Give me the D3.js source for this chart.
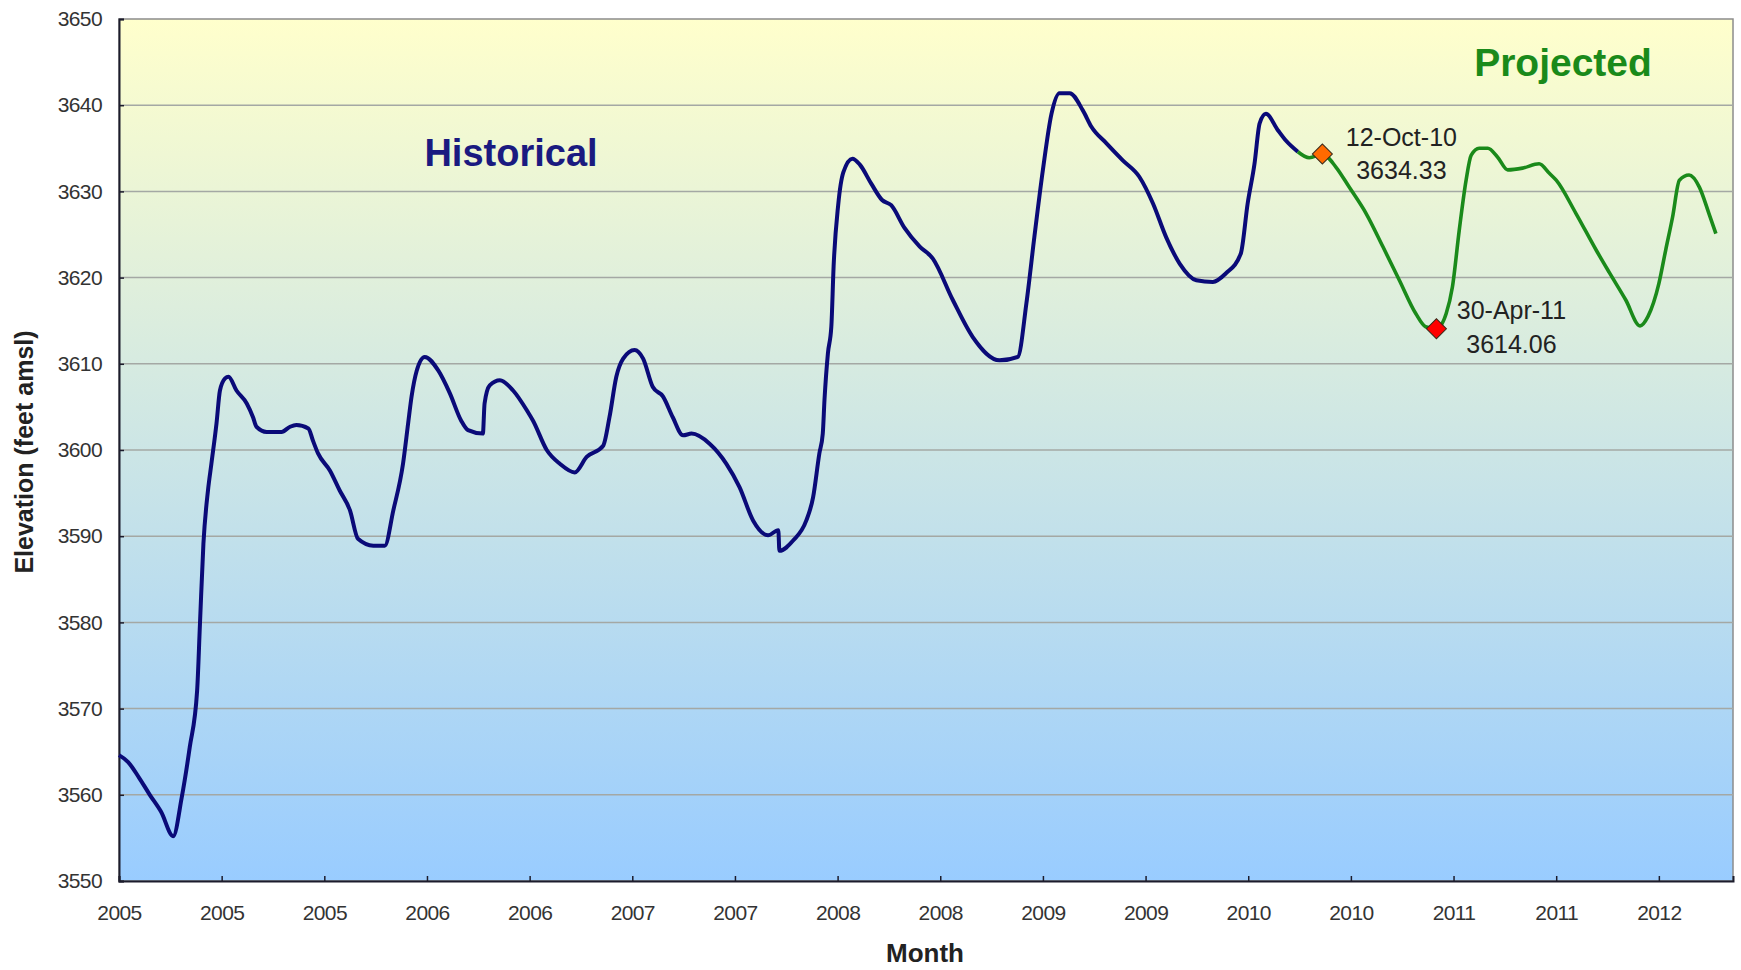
<!DOCTYPE html>
<html>
<head>
<meta charset="utf-8">
<script src="https://cdn.jsdelivr.net/npm/d3@7"></script>
<style>
  body { margin: 0; background: #fff; }
  text { font-family: "Liberation Sans", Arial, sans-serif; }
</style>
</head>
<body>
<div id="container"></div>
<script>
/* CONSTANTS AND GLOBALS */
const width = 1741;
const height = 970;
const margin = { top: 19, right: 8, bottom: 89, left: 119 };

/* DATA */
const histDates = [
  "2005-01-01","2005-01-17","2005-02-05","2005-02-24","2005-03-16","2005-04-06","2005-04-21","2005-05-05",
  "2005-05-18","2005-05-23","2005-05-29","2005-06-06","2005-06-12","2005-06-21","2005-06-27","2005-07-06",
  "2005-07-12","2005-07-26","2005-08-13","2005-08-24","2005-08-30","2005-09-17","2005-10-13","2005-10-28",
  "2005-11-08","2005-11-29","2005-12-07","2005-12-16","2006-01-06","2006-01-23","2006-02-10","2006-02-24",
  "2006-03-23","2006-04-12","2006-04-27","2006-05-14","2006-05-23","2006-05-29","2006-06-07","2006-06-21",
  "2006-07-15","2006-08-04","2006-08-24","2006-09-05","2006-10-01","2006-10-04","2006-10-13","2006-10-31",
  "2006-11-23","2006-12-19","2006-12-28","2007-01-21","2007-02-13","2007-03-11","2007-04-01","2007-04-30",
  "2007-05-11","2007-05-23","2007-06-04","2007-06-24","2007-07-09","2007-07-26","2007-08-13","2007-08-30",
  "2007-09-17","2007-10-02","2007-11-03","2007-12-02","2007-12-25","2008-01-18","2008-02-13","2008-03-02",
  "2008-03-04","2008-03-28","2008-04-20","2008-05-02","2008-05-13","2008-05-19","2008-05-22","2008-05-28",
  "2008-06-03","2008-06-07","2008-06-15","2008-06-24","2008-07-10","2008-07-23","2008-08-12","2008-08-31",
  "2008-09-16","2008-10-09","2008-11-05","2008-11-28","2009-01-02","2009-02-06","2009-03-25","2009-04-26",
  "2009-05-11","2009-05-25","2009-06-09","2009-06-24","2009-07-08","2009-07-26","2009-08-18","2009-09-02",
  "2009-09-28","2009-10-27","2009-11-25","2009-12-19","2010-01-11","2010-02-04","2010-03-05","2010-04-03",
  "2010-04-26","2010-05-22","2010-06-03","2010-06-15","2010-06-24","2010-07-05","2010-07-26","2010-08-09",
  "2010-08-30"
];
const histValues = [
  3564.6,3563.8,3562.0,3560.0,3558.0,3555.2,3559.7,3565.5,
  3572.1,3579.9,3589.1,3595.3,3598.4,3603.1,3606.9,3608.3,
  3608.5,3606.9,3605.4,3603.8,3602.7,3602.1,3602.1,3602.7,
  3602.9,3602.5,3601.1,3599.6,3597.6,3595.3,3593.0,3589.7,
  3588.9,3588.9,3593.0,3598.4,3603.1,3606.2,3609.2,3610.8,
  3609.2,3606.6,3603.4,3602.3,3601.9,3605.4,3607.5,3608.1,
  3606.9,3604.4,3603.4,3600.0,3598.4,3597.4,3599.2,3600.5,
  3603.8,3608.5,3610.6,3611.6,3610.6,3607.3,3606.2,3603.8,
  3601.7,3601.9,3600.7,3598.4,3595.7,3591.8,3590.1,3590.7,
  3588.3,3589.5,3591.8,3594.5,3599.6,3601.9,3605.8,3611.2,
  3614.3,3621.3,3628.4,3632.2,3633.8,3633.1,3630.9,3629.0,
  3628.4,3625.8,3623.6,3622.2,3617.4,3613.1,3610.4,3610.8,
  3617.0,3624.7,3632.5,3639.0,3641.4,3641.4,3639.4,3637.5,
  3635.6,3633.6,3631.7,3628.6,3624.7,3621.6,3619.7,3619.5,
  3620.5,3622.8,3628.6,3633.2,3637.9,3639.0,3637.1,3635.9,
  3634.6
];

const projDates = [
  "2010-08-30","2010-09-19","2010-10-12","2010-11-05","2010-11-28","2010-12-28","2011-01-26","2011-02-24",
  "2011-03-25","2011-04-11","2011-04-30","2011-05-17","2011-05-28","2011-06-09","2011-06-21","2011-06-30",
  "2011-07-14","2011-07-29","2011-08-15","2011-09-02","2011-09-28","2011-10-27","2011-11-14","2011-11-26",
  "2011-12-31","2012-02-04","2012-02-27","2012-03-27","2012-04-21","2012-05-05","2012-05-24","2012-06-05",
  "2012-06-17","2012-06-29","2012-07-16","2012-08-03","2012-08-20","2012-09-01"
];
const projValues = [
  3634.6,3633.9,3634.33,3632.8,3630.5,3627.4,3623.6,3619.7,
  3615.8,3614.3,3614.06,3615.8,3618.9,3625.5,3631.3,3634.2,
  3635.0,3635.0,3634.0,3632.5,3632.7,3633.2,3632.1,3631.3,
  3627.4,3623.2,3620.6,3617.4,3614.4,3615.5,3619.3,3623.2,
  3627.0,3631.3,3631.9,3630.5,3627.4,3625.1
];

const markerDates = ["2010-10-12", "2011-04-30"];
const markerValues = [3634.33, 3614.06];
const markerNames = ["12-Oct-10", "30-Apr-11"];
const markerColors = ["#ff6a00", "#ff0000"];

const xStart = "2005-01-01";
const xEnd = "2012-10-01";
const xTickStepDays = 180;
const xTickLabels = ["2005","2005","2005","2006","2006","2007","2007","2008",
                     "2008","2009","2009","2010","2010","2011","2011","2012"];
const yTicks = [3550,3560,3570,3580,3590,3600,3610,3620,3630,3640,3650];

const parse = d3.timeParse("%Y-%m-%d");
const fmt = d3.format(".2f");

const hist = histDates.map((d, i) => ({ date: parse(d), value: histValues[i] }));
const proj = projDates.map((d, i) => ({ date: parse(d), value: projValues[i] }));
const markers = markerDates.map((d, i) => ({
  date: parse(d), value: markerValues[i], name: markerNames[i], color: markerColors[i]
}));

const innerW = width - margin.left - margin.right;
const innerH = height - margin.top - margin.bottom;

// SCALES
const x = d3.scaleTime()
  .domain([parse(xStart), parse(xEnd)])
  .range([0, innerW]);

const y = d3.scaleLinear()
  .domain([3550, 3650])
  .range([innerH, 0]);

const xTickDates = xTickLabels.map((l, i) => d3.timeDay.offset(parse(xStart), i * xTickStepDays));

// CREATE SVG ELEMENT
const svg = d3.select("#container")
  .append("svg")
  .attr("width", width)
  .attr("height", height);

const defs = svg.append("defs");
const grad = defs.append("linearGradient")
  .attr("id", "bg")
  .attr("x1", 0).attr("y1", 0).attr("x2", 0).attr("y2", 1);
grad.append("stop").attr("offset", "0%").attr("stop-color", "#ffffcc");
grad.append("stop").attr("offset", "100%").attr("stop-color", "#99ccff");

const g = svg.append("g")
  .attr("transform", "translate(" + margin.left + "," + margin.top + ")");

g.append("rect")
  .attr("width", innerW)
  .attr("height", innerH)
  .attr("fill", "url(#bg)")
  .attr("stroke", "#8c8c8c")
  .attr("stroke-width", 1.5);

// GRIDLINES
g.append("g")
  .selectAll("line")
  .data(yTicks.slice(1, -1))
  .join("line")
  .attr("x1", 0)
  .attr("x2", innerW)
  .attr("y1", d => y(d))
  .attr("y2", d => y(d))
  .attr("stroke", "#a4a8a4")
  .attr("stroke-width", 1.5);

// BUILD AND CALL AXES
const yAxis = g.append("g")
  .call(d3.axisLeft(y).tickValues(yTicks).tickSize(-5).tickPadding(17).tickFormat(d3.format("d")));
yAxis.select(".domain").attr("stroke", "#1c1c2c").attr("stroke-width", 2);
yAxis.selectAll(".tick line").attr("stroke", "#1c1c2c").attr("stroke-width", 1.5);
yAxis.selectAll(".tick text")
  .attr("font-size", 21)
  .attr("fill", "#333")
  .attr("letter-spacing", "-0.6px");

const xAxis = g.append("g")
  .attr("transform", "translate(0," + innerH + ")")
  .call(d3.axisBottom(x).tickValues(xTickDates).tickSize(-5).tickPadding(24)
    .tickFormat((d, i) => xTickLabels[i]));
xAxis.select(".domain").attr("stroke", "#1c1c2c").attr("stroke-width", 2);
xAxis.selectAll(".tick line").attr("stroke", "#1c1c2c").attr("stroke-width", 1.5);
xAxis.selectAll(".tick text")
  .attr("font-size", 21)
  .attr("fill", "#333")
  .attr("letter-spacing", "-0.6px");

// AXIS TITLES
svg.append("text")
  .attr("x", 925)
  .attr("y", 962)
  .attr("text-anchor", "middle")
  .attr("font-size", 26)
  .attr("font-weight", "bold")
  .attr("fill", "#222")
  .text("Month");

svg.append("text")
  .attr("transform", "translate(33,452) rotate(-90)")
  .attr("text-anchor", "middle")
  .attr("font-size", 25)
  .attr("font-weight", "bold")
  .attr("fill", "#222")
  .text("Elevation (feet amsl)");

// LINE GENERATOR FUNCTION
const line = d3.line()
  .x(d => x(d.date))
  .y(d => y(d.value))
  .curve(d3.curveMonotoneX);

// DRAW LINE
g.append("path")
  .datum(hist)
  .attr("fill", "none")
  .attr("stroke", "#0a0a78")
  .attr("stroke-width", 4)
  .attr("stroke-linejoin", "round")
  .attr("d", line);

g.append("path")
  .datum(proj)
  .attr("fill", "none")
  .attr("stroke", "#1a8a1a")
  .attr("stroke-width", 3.6)
  .attr("stroke-linejoin", "round")
  .attr("d", line);

// MARKERS AND LABELS
const mk = g.append("g")
  .selectAll("g")
  .data(markers)
  .join("g")
  .attr("transform", d => "translate(" + x(d.date) + "," + y(d.value) + ")");

mk.append("path")
  .attr("d", d3.symbol(d3.symbolSquare, 200))
  .attr("transform", "rotate(45)")
  .attr("fill", d => d.color)
  .attr("stroke", "#3a2a1a")
  .attr("stroke-width", 1);

mk.append("text")
  .attr("x", (d, i) => i === 0 ? 79 : 75)
  .attr("y", (d, i) => i === 0 ? -8 : -10)
  .attr("text-anchor", "middle")
  .attr("font-size", 25)
  .attr("fill", "#222")
  .text(d => d.name);

mk.append("text")
  .attr("x", (d, i) => i === 0 ? 79 : 75)
  .attr("y", (d, i) => i === 0 ? 25 : 24)
  .attr("text-anchor", "middle")
  .attr("font-size", 25)
  .attr("fill", "#222")
  .text(d => fmt(d.value));

// SERIES TITLES
svg.append("text")
  .attr("x", 511)
  .attr("y", 166)
  .attr("text-anchor", "middle")
  .attr("font-size", 38)
  .attr("font-weight", "bold")
  .attr("fill", "#1a1a80")
  .text("Historical");

svg.append("text")
  .attr("x", 1563)
  .attr("y", 76)
  .attr("text-anchor", "middle")
  .attr("font-size", 39)
  .attr("font-weight", "bold")
  .attr("fill", "#1a8a1a")
  .text("Projected");
</script>
</body>
</html>
